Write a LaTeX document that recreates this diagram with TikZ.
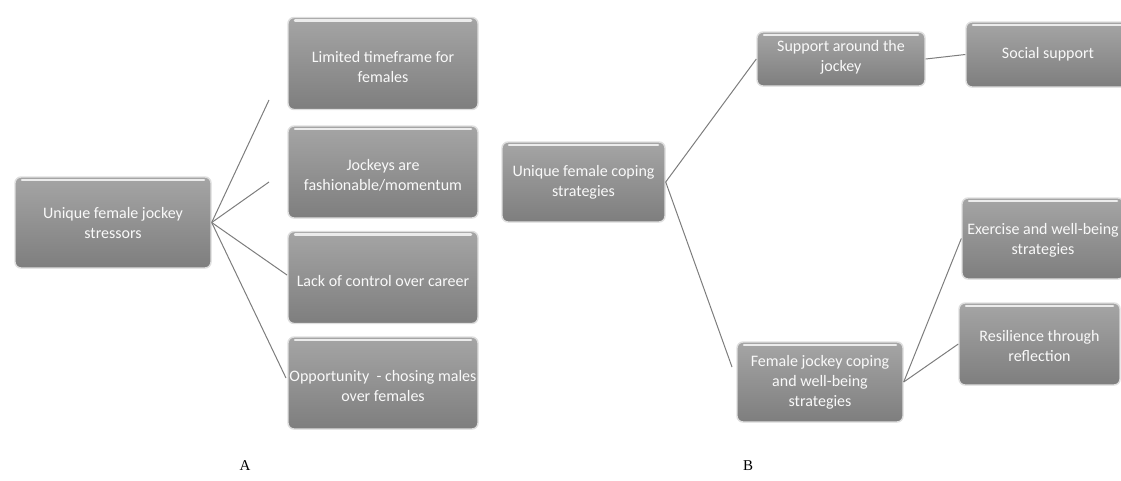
\documentclass[tikz,border=0pt]{standalone}
\usepackage{fontspec}
\setmainfont{Carlito}
\newfontfamily\panelfont{Liberation Serif}
\definecolor{boxtop}{RGB}{165,165,165}
\definecolor{boxbottom}{RGB}{126,126,126}
\definecolor{boxrim}{RGB}{222,222,222}
\definecolor{linkgray}{RGB}{125,125,125}
\tikzset{
  theme/.style={draw=boxrim, line width=1.4pt, rounded corners=6pt,
    top color=boxtop, bottom color=boxbottom, inner sep=0pt,
    path picture={\draw[white!85!gray, line width=2.5pt, line cap=round]
      ([xshift=7pt,yshift=-3pt]path picture bounding box.north west) --
      ([xshift=-7pt,yshift=-3pt]path picture bounding box.north east);}},
  themetext/.style={text=white!95!gray, align=center,
    font=\fontsize{16}{20}\selectfont},
  link/.style={draw=linkgray, line width=1pt},
}
\begin{document}
\begin{tikzpicture}[x=1pt, y=-1pt]
  % canvas
  \useasboundingbox (0,0) rectangle (1121,480);
  \clip (0,0) rectangle (1121,480);
  % A: root of the stressors
  \node[theme, minimum width=196pt, minimum height=91pt] (s_0) at (113,222.5) {};
  \node[themetext] at (s_0) {Unique female jockey\\stressors};
  % A: stressor boxes
  \def\stressy {63.5, 172, 277.5, 383}
  \foreach \y [count=\index] in \stressy
  {
    \node[theme, minimum width=190pt, minimum height=92pt] (s_\index) at (383,\y) {};
  }
  \foreach \label [count=\index] in {{Limited timeframe for\\females},
      {Jockeys are\\fashionable/momentum},
      {Lack of control over career},
      {Opportunity\ \ - chosing males\\over females}}
  {
    \node[themetext] at ([yshift=-3pt]s_\index) {\label};
  }
  % A: edges
  \coordinate (e_1) at (269,100);
  \coordinate (e_2) at (269,182);
  \coordinate (e_3) at (287,275);
  \coordinate (e_4) at (286,378);
  \foreach \index in {1,...,4}
  {
    \draw[link] (s_0.east) -- (e_\index);
  }
  % B: coping boxes
  \node[theme, minimum width=163pt, minimum height=80pt] (c_0) at (583.5,182) {};
  \node[theme, minimum width=168pt, minimum height=54pt] (c_1) at (841,59) {};
  \node[theme, minimum width=166pt, minimum height=80pt] (c_2) at (820,382) {};
  \node[theme, minimum width=164pt, minimum height=65pt] (c_3) at (1048,54.5) {};
  \node[theme, minimum width=162pt, minimum height=81pt] (c_4) at (1043,238.5) {};
  \node[theme, minimum width=161pt, minimum height=82pt] (c_5) at (1039.5,344) {};
  \node[themetext] at (c_0) {Unique female coping\\strategies};
  \node[themetext] at ([yshift=2pt]c_1) {Support around the\\jockey};
  \node[themetext] at (c_2) {Female jockey coping\\and well-being\\strategies};
  \node[themetext] at (c_3) {Social support};
  \node[themetext] at ([yshift=-2pt]c_4) {Exercise and well-being\\strategies};
  \node[themetext] at ([yshift=-2pt]c_5) {Resilience through\\reflection};
  % B: edges
  \coordinate (e_5) at (732,367);
  \draw[link] (c_0.east) -- (c_1.west);
  \draw[link] (c_0.east) -- (e_5);
  \draw[link] (c_1.east) -- (c_3.west);
  \draw[link] (c_2.east) -- (c_4.west);
  \draw[link] (c_2.east) -- (c_5.west);
  % panel letters
  \node[font=\panelfont\fontsize{15}{18}\selectfont] (p_a) at (245,466) {A};
  \node[font=\panelfont\fontsize{15}{18}\selectfont] (p_b) at (748,466) {B};
\end{tikzpicture}
\end{document}
